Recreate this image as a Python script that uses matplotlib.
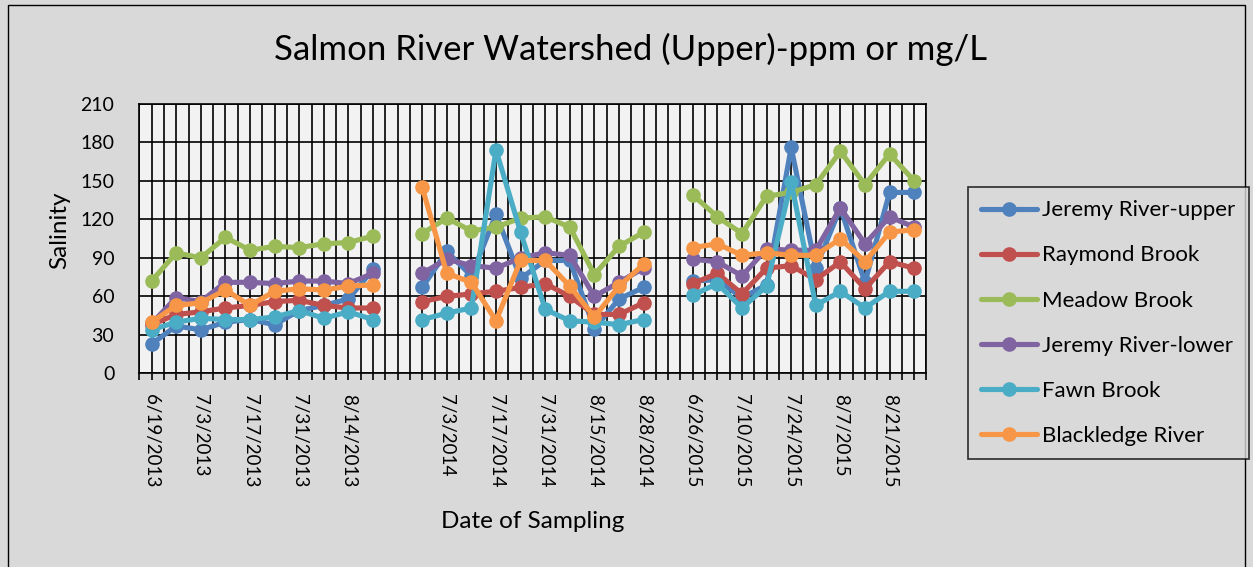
import numpy as np
import matplotlib.pyplot as plt
from matplotlib.patches import Rectangle

plt.rcParams['font.family'] = ['Lato', 'DejaVu Sans']

# salinity readings (ppm), one list per site and season
jeremy_upper_2013 = [23, 37, 34, 40, 42, 38, 49, 53, 58, 81]
jeremy_upper_2014 = [67, 95, 76, 124, 74, 88, 88, 35, 58, 67]
jeremy_upper_2015 = [72, 73, 59, 69, 176, 82, 129, 71, 141, 141]

raymond_2013 = [38, 46, 48, 51, 53, 56, 57, 53, 51, 51]
raymond_2014 = [56, 60, 62, 64, 67, 70, 60, 46, 46, 55]
raymond_2015 = [70, 78, 62, 82, 84, 73, 87, 66, 87, 82]

meadow_2013 = [72, 94, 90, 106, 96, 99, 98, 101, 102, 107]
meadow_2014 = [109, 121, 111, 114, 121, 122, 114, 77, 99, 110]
meadow_2015 = [139, 122, 109, 138, 141, 147, 173, 147, 171, 150]

jeremy_lower_2013 = [39, 59, 56, 71, 71, 70, 72, 72, 70, 78]
jeremy_lower_2014 = [78, 89, 84, 82, 90, 94, 92, 60, 71, 82]
jeremy_lower_2015 = [89, 87, 76, 97, 96, 96, 129, 101, 122, 114]

fawn_2013 = [34, 40, 43, 42, 42, 44, 49, 43, 48, 42]
fawn_2014 = [42, 47, 51, 174, 110, 50, 41, 40, 38, 42]
fawn_2015 = [61, 70, 51, 68, 149, 53, 64, 51, 64, 64]

blackledge_2013 = [40, 53, 55, 65, 53, 64, 66, 65, 68, 69]
blackledge_2014 = [145, 78, 71, 41, 88, 88, 68, 44, 68, 85]
blackledge_2015 = [98, 101, 92, 94, 92, 92, 105, 87, 110, 112]

date_labels = ['6/19/2013', '7/3/2013', '7/17/2013', '7/31/2013', '8/14/2013', '',
               '7/3/2014', '7/17/2014', '7/31/2014', '8/15/2014', '8/28/2014',
               '6/26/2015', '7/10/2015', '7/24/2015', '8/7/2015', '8/21/2015']

series = [
    ('Jeremy River-upper', jeremy_upper_2013, jeremy_upper_2014, jeremy_upper_2015, '#4F81BD'),
    ('Raymond Brook', raymond_2013, raymond_2014, raymond_2015, '#C0504D'),
    ('Meadow Brook', meadow_2013, meadow_2014, meadow_2015, '#9BBB59'),
    ('Jeremy River-lower', jeremy_lower_2013, jeremy_lower_2014, jeremy_lower_2015, '#8064A2'),
    ('Fawn Brook', fawn_2013, fawn_2014, fawn_2015, '#4BACC6'),
    ('Blackledge River', blackledge_2013, blackledge_2014, blackledge_2015, '#F79646'),
]

fig = plt.figure(figsize=(12.53, 5.67), dpi=100, facecolor='#d9d9d9')
fig.patches.append(Rectangle((8/1253, -0.01), 1237/1253, 1 - 5/567 + 0.01,
                             transform=fig.transFigure, fill=False,
                             edgecolor='black', lw=1))

ax = fig.add_axes([0.1112, 0.3413, 0.6282, 0.4756])
ax.set_facecolor('#f2f2f2')

# one slot every half week, blank slot between seasons
xpos = 1 + 2*np.arange(32)
for name, a, b, c, color in series:
    y = np.concatenate([a, [np.nan], b, [np.nan], c])
    ax.plot(xpos, y, color=color, lw=3.7, marker='o', ms=9.5,
            label=name, solid_joinstyle='round', solid_capstyle='round', zorder=3)

ax.set_xlim(0, 64)
ax.set_ylim(0, 210)
ax.set_yticks(np.arange(0, 211, 30))
ax.set_xticks(np.arange(65))
labels = [''] * 65
for j, lab in enumerate(date_labels):
    labels[1 + 4*j] = lab
ax.set_xticklabels(labels, rotation=-90, fontsize=13.5)
ax.grid(True, color='black', lw=1.2)
ax.set_axisbelow(True)
ax.tick_params(axis='x', length=5, width=1.2, color='black', pad=10)
ax.tick_params(axis='y', length=0, pad=18, labelsize=14)
for s in ax.spines.values():
    s.set_color('black')
    s.set_linewidth(1.2)

fig.text(0.503, 0.912, 'Salmon River Watershed (Upper)-ppm or mg/L',
         fontsize=25, ha='center', va='center')
fig.text(60/1253, 0.594, 'Salinity', rotation=90, fontsize=17.5,
         ha='center', va='center')
fig.text(0.4254, 0.0811, 'Date of Sampling', fontsize=17.5,
         ha='center', va='center')

leg = fig.legend(loc='upper left', bbox_to_anchor=(0.7725, 0.6702),
                 fontsize=16, frameon=True, fancybox=False,
                 facecolor='#d9d9d9', edgecolor='black',
                 handlelength=2.5, labelspacing=1.13, borderpad=0.6,
                 handletextpad=0.25, borderaxespad=0)
leg.get_frame().set_linewidth(1.2)

fig.savefig('out.png', dpi=100, facecolor=fig.get_facecolor())
